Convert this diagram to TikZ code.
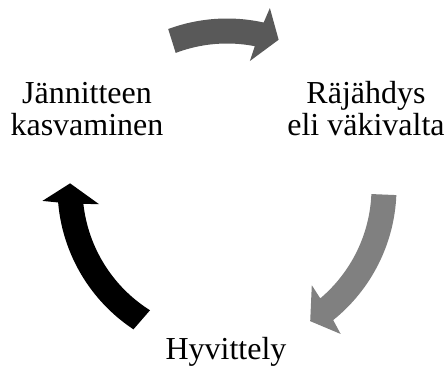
\documentclass[tikz,border=0pt]{standalone}
\usepackage{fontspec}
\setmainfont{Liberation Serif}
\definecolor{darkarrow}{RGB}{89,89,89}
\definecolor{midarrow}{RGB}{128,128,128}
\definecolor{blackarrow}{RGB}{0,0,0}
\begin{document}
\begin{tikzpicture}[x=1pt,y=1pt,
  lbl/.style={font=\fontsize{32}{32.4}\selectfont, align=center, inner sep=0pt, anchor=base}]
\useasboundingbox (0,0) rectangle (446,365);
% cycle arrows, centred on (227,177)
\begin{scope}[shift={(227,177)}]
  % top arrow
  \fill[darkarrow] (110.3:169.5) arc[start angle=110.3, end angle=77.5, radius=169.5]
    -- (76.6:185) -- (70.8:157) -- (79.8:129) -- (78.9:144.5)
    arc[start angle=78.9, end angle=110.8, radius=144.5] -- cycle;
  % right arrow
  \fill[midarrow] (-2.4:169.5) arc[start angle=-2.4, end angle=-51.2, radius=169.5]
    -- (-52.1:185) -- (-58:157) -- (-48.9:129) -- (-49.8:144.5)
    arc[start angle=-49.8, end angle=-2.4, radius=144.5] -- cycle;
  % left arrow
  \fill[blackarrow] (236.5:169.5) arc[start angle=236.5, end angle=184.9, radius=169.5]
    -- (184.0:185) -- (178.3:157) -- (187.2:129) -- (186.3:144.5)
    arc[start angle=186.3, end angle=237.8, radius=144.5] -- cycle;
\end{scope}
\node[lbl] (tension) at (87,229.3) {Jännitteen\\kasvaminen};
\node[lbl] (explosion) at (366,229.3) {Räjähdys\\eli väkivalta};
\node[lbl] (reconcile) at (226,5.7) {Hyvittely};
\end{tikzpicture}
\end{document}
